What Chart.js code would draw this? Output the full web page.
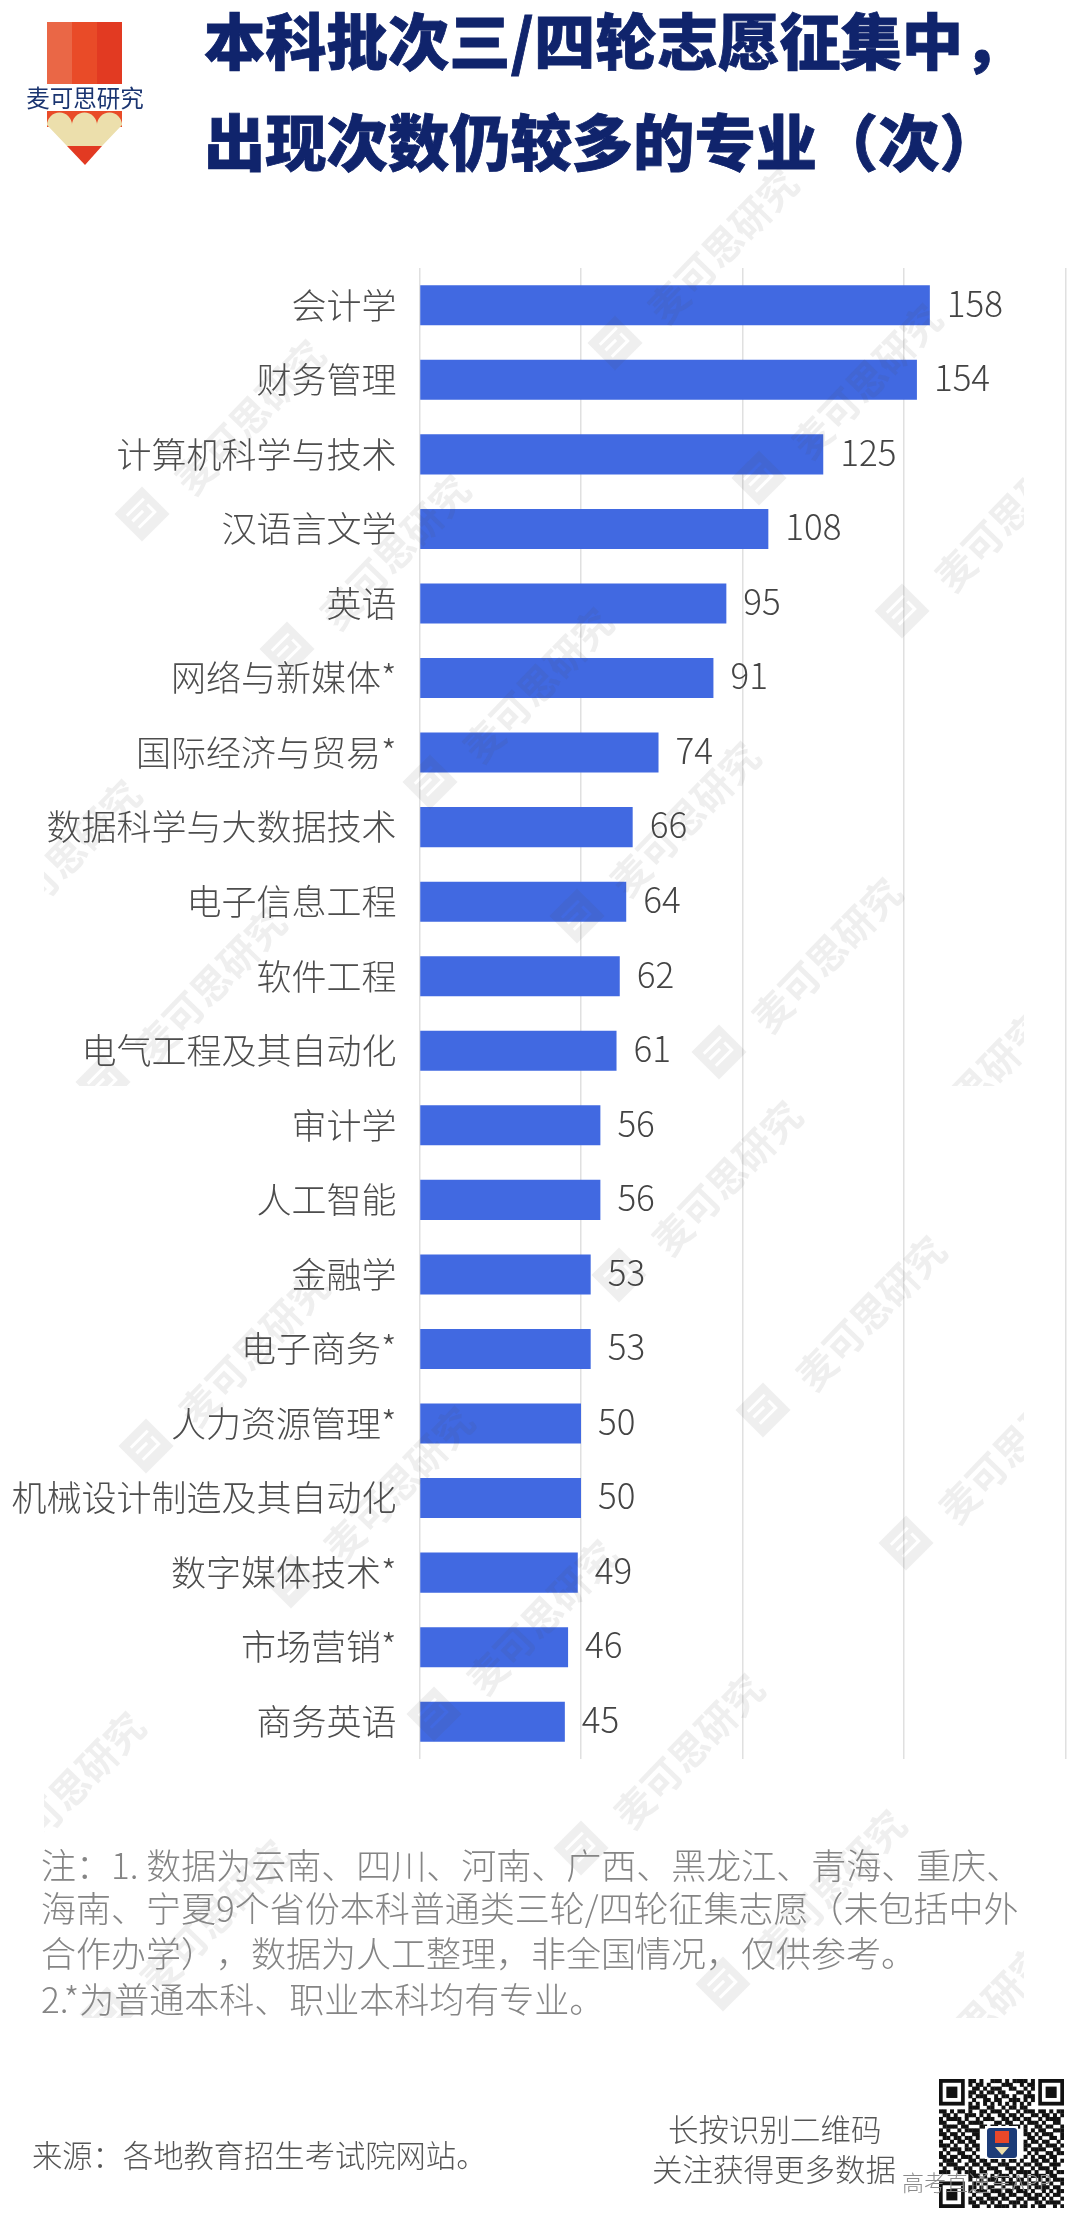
<!DOCTYPE html>
<html lang="zh-CN">
<head>
<meta charset="utf-8">
<title>本科批次三/四轮志愿征集中，出现次数仍较多的专业（次）</title>
<script src="https://cdn.jsdelivr.net/npm/chart.js@4"></script>
<style>
html,body{margin:0;padding:0;background:#fff;}
body{position:relative;width:1080px;height:2221px;overflow:hidden;font-family:"Noto Sans CJK SC","Noto Sans",sans-serif;text-spacing-trim:space-all;}
canvas#chart{position:absolute;left:0;top:0;}
.t{position:absolute;white-space:nowrap;}
.title{left:204px;font-size:61.3px;font-weight:900;color:#10246c;line-height:72px;-webkit-text-stroke:0.8px #10246c;}
.note{left:41px;font-size:35px;font-weight:300;color:#858585;line-height:46px;}
.foot{font-size:30.5px;font-weight:300;color:#555;line-height:40px;}
#logo{position:absolute;left:0;top:0;}
#qr{position:absolute;left:939px;top:2079px;}
</style>
</head>
<body>
<canvas id="chart" width="1080" height="2221"></canvas>

<svg id="logo" width="200" height="180" viewBox="0 0 200 180">
  <rect x="47" y="22" width="25" height="62" fill="#ea6746"/>
  <rect x="72" y="22" width="25" height="62" fill="#e94b28"/>
  <rect x="97" y="22" width="25" height="62" fill="#e23a22"/>
  <rect x="47" y="111" width="75" height="16" fill="#e94b28"/>
  <path d="M47 125 A12.5 12.5 0 0 1 72 125 A12.5 12.5 0 0 1 97 125 A12.5 12.5 0 0 1 122 125 L102 146 H67 Z" fill="#ecdfac"/>
  <path d="M67 146 H102 L85 165 Z" fill="#e23a22"/>
  <text x="85" y="107" text-anchor="middle" font-size="23.5" font-weight="400" fill="#1a3470" font-family="Noto Sans CJK SC">麦可思研究</text>
</svg>

<div class="t title" style="top:3px">本科批次三/四轮志愿征集中，</div>
<div class="t title" style="top:104px">出现次数仍较多的专业（次）</div>

<div class="t note" style="top:1841px">注：1. 数据为云南、四川、河南、广西、黑龙江、青海、重庆、</div>
<div class="t note" style="top:1884px">海南、宁夏9个省份本科普通类三轮/四轮征集志愿（未包括中外</div>
<div class="t note" style="top:1929px">合作办学），数据为人工整理，非全国情况，仅供参考。</div>
<div class="t note" style="top:1975px">2.*为普通本科、职业本科均有专业。</div>

<div class="t foot" style="left:32px;top:2134px;font-size:30.3px">来源：各地教育招生考试院网站。</div>
<div class="t foot" style="left:668px;top:2108px">长按识别二维码</div>
<div class="t foot" style="left:652px;top:2148px">关注获得更多数据</div>

<canvas id="qr" width="125" height="129"></canvas>
<div class="t" style="left:902px;top:2167px;font-size:22px;font-weight:300;color:#8a8a8a;line-height:28px;">高考直通车APP</div>

<script>
const categories = ["会计学","财务管理","计算机科学与技术","汉语言文学","英语","网络与新媒体*","国际经济与贸易*","数据科学与大数据技术","电子信息工程","软件工程","电气工程及其自动化","审计学","人工智能","金融学","电子商务*","人力资源管理*","机械设计制造及其自动化","数字媒体技术*","市场营销*","商务英语"];
const counts = [158,154,125,108,95,91,74,66,64,62,61,56,56,53,53,50,50,49,46,45];
const axisMax = 200;
const axisStep = 50;

const watermarkText = "麦可思研究";
const watermarkLines = [[-42,954],[103,1082],[142,514],[287,649],[430,782],[577,916],[719,1052],[864,1186],[615,343],[759,478],[902,611]];

const valueLabels = {
  id:"valueLabels",
  afterDatasetsDraw(chart){
    const ctx = chart.ctx;
    const bars = chart.getDatasetMeta(0).data;
    ctx.save();
    ctx.font = '300 35px "Noto Sans CJK SC"';
    ctx.fillStyle = "#444";
    ctx.textAlign = "left";
    ctx.textBaseline = "middle";
    bars.forEach((b,i)=>ctx.fillText(String(counts[i]), b.x+17, b.y-2));
    ctx.restore();
  }
};

function drawMark(ctx,x,y){
  ctx.save();
  ctx.translate(x,y);
  ctx.rotate(-Math.PI/4);
  const p = new Path2D();
  p.rect(-19.5,-19.5,39,39);
  p.rect(-12,-11,24,3);
  p.rect(-12,-3,15,3);
  p.rect(-12,6,24,3);
  p.rect(9,-3,3,9);
  ctx.fill(p,"evenodd");
  ctx.restore();
}

const watermark = {
  id:"watermark",
  afterDraw(chart){
    const ctx = chart.ctx;
    [[154,0],[1086,932]].forEach(([top,shift])=>{
      ctx.save();
      ctx.beginPath();
      ctx.rect(44,top,980,932);
      ctx.clip();
      ctx.fillStyle = "rgba(80,80,80,0.09)";
      ctx.font = '700 39px "Noto Sans CJK SC"';
      ctx.textAlign = "center";
      ctx.textBaseline = "middle";
      watermarkLines.forEach(([x,y])=>{
        const px = x+(shift?4:0), py = y+shift;
        drawMark(ctx,px,py);
        ctx.save();
        ctx.translate(px+108,py-97);
        ctx.rotate(-46*Math.PI/180);
        ctx.fillText(watermarkText,0,0);
        ctx.restore();
      });
      ctx.restore();
    });
  }
};

new Chart(document.getElementById("chart"),{
  type:"bar",
  data:{labels:categories,datasets:[{data:counts,backgroundColor:"#4169e1",borderWidth:0,barPercentage:0.5366,categoryPercentage:1}]},
  plugins:[valueLabels,watermark],
  options:{
    indexAxis:"y",
    responsive:false,
    animation:false,
    devicePixelRatio:1,
    layout:{padding:{left:0,right:14.5,top:268,bottom:462}},
    plugins:{legend:{display:false},tooltip:{enabled:false}},
    scales:{
      x:{type:"linear",min:0,max:axisMax,position:"bottom",
        ticks:{display:false,stepSize:axisStep},
        grid:{color:"#e0e0e0",lineWidth:1.5,drawTicks:false},
        border:{display:false}},
      y:{type:"category",
        afterFit(s){s.width=419.5;},
        ticks:{autoSkip:false,color:"#4d4d4d",padding:23,font:{family:'"Noto Sans CJK SC"',size:35,weight:"300"}},
        grid:{display:false,drawTicks:false},
        border:{display:false}}
    }
  }
});

const qrRows = [
"0000000011010011101011110100000000",
"0000000010110100011100101100000000",
"0000000001101011100110010100000000",
"0000000011010110110001101000000000",
"0000000010111001011010011100000000",
"0000000001001101100111010100000000",
"0000000010101010101010101000000000",
"0000000011100110010110110000000000",
"1101011010011011101001011101101011",
"0110100111010100110110100110110101",
"1011110100101110011011011001011110",
"1100011011110001101100101110100110",
"0111101100011011010111010011011001",
"1010010111100000000000010101100111",
"1101101001100000000000011010111001",
"0110110110100000000000001101001101",
"1001011011000000000000010110110010",
"1110100101100000000000011001011101",
"0101110110100000000000010111100110",
"1010011001000000000000001010011011",
"1101101110100000000000010101101100",
"0111010011011011010110100110110101",
"1011100101101100111001011011001110",
"0100111010010111001110100101110100",
"1110010111011001100101111010011011",
"0000000011101010111010010111101100",
"0000000010010111010101101001010111",
"0000000001101001101110110110101001",
"0000000011010110010011001011110110",
"0000000010111011101101110100101011",
"0000000001001100110110011011010110",
"0000000010110111011001101110101001",
"0000000011011010100111010011011110",
"0000000001100101111010110101100101"
];
(function(){
  const c = document.getElementById("qr"), q = c.getContext("2d");
  const n = qrRows.length, mw = c.width/n, mh = c.height/n;
  q.fillStyle = "#fff"; q.fillRect(0,0,c.width,c.height);
  q.fillStyle = "#111";
  qrRows.forEach((r,y)=>[...r].forEach((v,x)=>{ if(v==="1") q.fillRect(x*mw,y*mh,mw+.3,mh+.3); }));
  [[0,0],[n-7,0],[0,n-7]].forEach(([x,y])=>{
    q.fillStyle="#111"; q.fillRect(x*mw,y*mh,7*mw,7*mh);
    q.fillStyle="#fff"; q.fillRect((x+1)*mw,(y+1)*mh,5*mw,5*mh);
    q.fillStyle="#111"; q.fillRect((x+2)*mw,(y+2)*mh,3*mw,3*mh);
  });
  q.fillStyle="#fff"; q.fillRect(46,47,33,33);
  q.fillStyle="#1d3c78"; q.beginPath(); q.roundRect(48,49,30,30,3); q.fill();
  q.fillStyle="#e8482a"; q.fillRect(56,52,14,12);
  q.fillStyle="#ecdfac"; q.beginPath(); q.moveTo(56,68); q.lineTo(70,68); q.lineTo(63,76); q.closePath(); q.fill();
})();
</script>
</body>
</html>
